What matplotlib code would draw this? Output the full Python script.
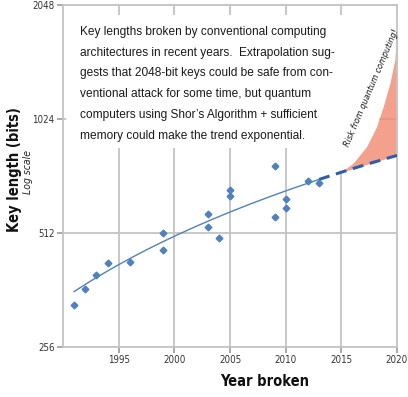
import numpy as np
import matplotlib
matplotlib.use("Agg")
import matplotlib.pyplot as plt
from matplotlib.patches import Polygon

# ---- data ----
years = [1991, 1992, 1993, 1994, 1996, 1999, 1999, 2003, 2003, 2004,
         2005, 2005, 2009, 2009, 2010, 2010, 2012, 2013]
bits = [330, 364, 397, 426, 430, 463, 512, 530, 576, 496,
        640, 663, 768, 563, 596, 629, 704, 696]
risk_years = [2015.0, 2016.05, 2017.26, 2018.16, 2018.76, 2019.36, 2019.8, 2020.0]
risk_upper = [743, 782, 865, 977, 1104, 1272, 1466, 1757]
yticks = [256, 512, 1024, 2048]
xticks = [1995, 2000, 2005, 2010, 2015, 2020]
note_lines = [
    "Key lengths broken by conventional computing",
    "architectures in recent years.  Extrapolation sug-",
    "gests that 2048-bit keys could be safe from con-",
    "ventional attack for some time, but quantum",
    "computers using Shor\u2019s Algorithm + sufficient",
    "memory could make the trend exponential.",
]

W, H = 408, 397
fig = plt.figure(figsize=(W / 100, H / 100), dpi=100)
ax = fig.add_axes([63 / W, 50 / H, 334 / W, 342 / H])
ax.set_yscale("log", base=2)
ax.set_xlim(1990, 2020)
ax.set_ylim(256, 2048)

CF = dict(family="DejaVu Sans", fontstretch="condensed")
grid_c = "#c4c4c4"
ax.set_axisbelow(True)
ax.grid(True, color=grid_c, lw=1.3)
for s in ax.spines.values():
    s.set_color(grid_c)
    s.set_linewidth(1.3)
ax.set_yticks(yticks)
ax.set_yticklabels([str(v) for v in yticks], fontsize=7, color="#333333", **CF)
ax.set_xticks(xticks)
ax.set_xticklabels([str(v) for v in xticks], fontsize=7, color="#333333", **CF)
ax.yaxis.set_minor_locator(matplotlib.ticker.NullLocator())
ax.tick_params(axis="both", direction="out", length=4, width=1.2, color="#999999", pad=2)

# linear trend fit (in linear y), drawn on log axis
coef = np.polyfit(years, bits, 1)
tf = np.linspace(min(years), 2013, 50)
ax.plot(tf, np.polyval(coef, tf), color="#4f81bd", lw=1.0, zorder=3)
td = np.linspace(2013, 2020, 50)
ax.plot(td, np.polyval(coef, td), color="#2d5ea8", lw=2.2, ls=(0, (3.6, 2.2)), zorder=4)

# risk region
ry = np.array(risk_years)
ax.fill_between(ry, np.polyval(coef, ry), risk_upper, color="#f08a70", alpha=0.8,
                lw=0, zorder=2)

# white background for the note (covers gridlines)
top_v = 2 ** (8 + (347 - 15) / 114)
bot_v = 2 ** (8 + (347 - 148) / 114)
verts = [(1990.3, bot_v), (2014.6, bot_v), (2014.6, risk_upper[0] * 0.99)] + \
        list(zip(risk_years, risk_upper)) + [(2020, top_v), (1990.3, top_v)]
ax.add_patch(Polygon(verts, closed=True, facecolor="white", edgecolor="none", zorder=1.5))

ax.plot(years, bits, ls="none", marker="D", ms=3.4, color="#4f81bd", zorder=5)

# note text
for i, line in enumerate(note_lines):
    fig.text(80 / W, 1 - (32 + i * 20.7) / H, line, fontsize=8.6, family="Liberation Sans",
             color="#1a1a1a", va="center", ha="left")

fig.text(372 / W, 1 - 88 / H, "Risk from quantum computing!", rotation=67,
         fontsize=6.5, style="italic", color="#1a1a1a",
         ha="center", va="center", **CF)

fig.text(14 / W, 1 - 170 / H, "Key length (bits)", rotation=90, fontsize=10.5,
         fontweight="bold", ha="center", va="center", color="#111111", **CF)
fig.text(28 / W, 1 - 172 / H, "Log scale", rotation=90, fontsize=7.5, style="italic",
         ha="center", va="center", color="#222222", **CF)
fig.text(265 / W, 1 - 381 / H, "Year broken", fontsize=10.5, fontweight="bold",
         ha="center", va="center", color="#111111", **CF)

fig.savefig("out.png", dpi=100)
